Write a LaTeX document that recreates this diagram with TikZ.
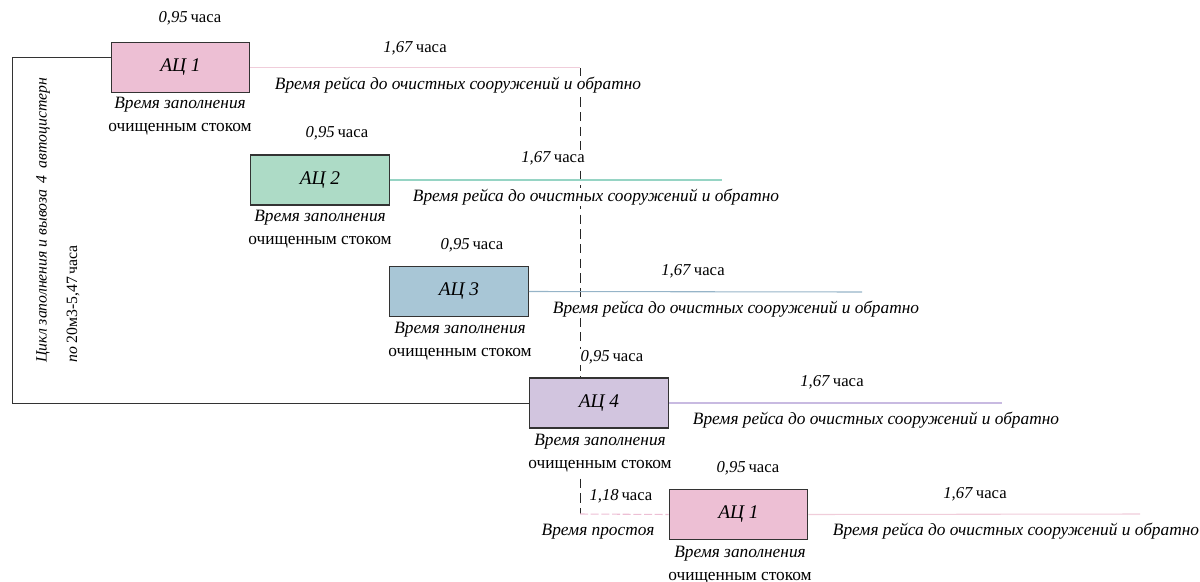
\documentclass[tikz,border=0pt]{standalone}
\usepackage{fontspec}
\setmainfont{Liberation Serif}
\usetikzlibrary{positioning}
\definecolor{acpink}{RGB}{237,191,212}
\definecolor{acgreen}{RGB}{173,219,198}
\definecolor{acblue}{RGB}{168,198,214}
\definecolor{aclilac}{RGB}{210,197,223}
\definecolor{linepink}{RGB}{240,205,218}
\definecolor{linegreen}{RGB}{150,212,196}
\definecolor{lineblue}{RGB}{150,180,200}
\definecolor{linelilac}{RGB}{200,186,225}
\tikzset{
	tankbox/.style={draw=black!80, line width=0.9pt, minimum width=104pt, minimum height=37.5pt, inner sep=0pt, font=\itshape\fontsize{14.5}{16}\selectfont}
}
\tikzset{
	hrstext/.style={font=\fontsize{12.5}{14}\selectfont, fill=white, inner sep=1pt}
}
\tikzset{
	routetext/.style={font=\itshape\fontsize{13}{15}\selectfont, fill=white, inner sep=1pt},
	filltext/.style={align=center, font=\fontsize{13}{17.2}\selectfont, fill=white, inner sep=1pt}
}
\newcommand{\hrs}[1]{\textit{#1}\,часа}
\newcommand{\filling}{\textit{Время заполнения}\\очищенным стоком}

\begin{document}
\begin{tikzpicture}[x=0.75pt, y=-0.75pt]
      \useasboundingbox (0,0) rectangle (1200,582);
      % idle time marker
      \coordinate (idletop) at (580,68);
      \coordinate (idlebot) at (580,514);
      \draw[black!85, line width=0.6pt, dash pattern=on 7pt off 4pt] (idletop) -- (idlebot);
      % tank 1
      \node[tankbox, fill=acpink] (ac1) at (180.5,67.5) {АЦ 1};
      \coordinate (e1) at (580,67.5);
      \draw[linepink, thick] (ac1.east) -- (e1);
      \node[hrstext] (t1) at (190,18) {\hrs{0,95}};
      \node[hrstext] (r1) at (415,48) {\hrs{1,67}};
      \node[routetext] (w1) at (458,85) {Время рейса до очистных сооружений и обратно};
      \node[filltext] (f1) at (180,116.5) {\filling};
      % tank 2
      \node[tankbox, fill=acgreen] (ac2) at (320,180) {АЦ 2};
      \coordinate (e2) at (722,180);
      \draw[linegreen, thick] (ac2.east) -- (e2);
      \node[hrstext] (t2) at (337,133) {\hrs{0,95}};
      \node[hrstext] (r2) at (553,158) {\hrs{1,67}};
      \node[routetext] (w2) at (596,197) {Время рейса до очистных сооружений и обратно};
      \node[filltext] (f2) at (320,229) {\filling};
      % tank 3
      \node[tankbox, fill=acblue] (ac3) at (459,291.5) {АЦ 3};
      \coordinate (e3) at (862,292);
      \draw[lineblue, thick] (ac3.east) -- (e3);
      \node[hrstext] (t3) at (472,245) {\hrs{0,95}};
      \node[hrstext] (r3) at (693,271) {\hrs{1,67}};
      \node[routetext] (w3) at (736,309) {Время рейса до очистных сооружений и обратно};
      \node[filltext] (f3) at (460,341) {\filling};
      % tank 4
      \node[tankbox, fill=aclilac] (ac4) at (599,403) {АЦ 4};
      \coordinate (e4) at (1002,403);
      \draw[linelilac, thick] (ac4.east) -- (e4);
      \node[hrstext] (t4) at (612,357) {\hrs{0,95}};
      \node[hrstext] (r4) at (832,382) {\hrs{1,67}};
      \node[routetext] (w4) at (876,420) {Время рейса до очистных сооружений и обратно};
      \node[filltext] (f4) at (600,453) {\filling};
      % tank 1 again, after idle time
      \node[tankbox, fill=acpink] (ac5) at (738.5,514.5) {АЦ 1};
      \coordinate (e5) at (1140,514);
      \draw[linepink, thick] (ac5.east) -- (e5);
      \draw[acpink, thick, dash pattern=on 6pt off 2pt] (idlebot) -- (ac5.west);
      \node[hrstext] (t5) at (748,468) {\hrs{0,95}};
      \node[hrstext] (r5) at (975,494) {\hrs{1,67}};
      \node[routetext] (w5) at (1016,531) {Время рейса до очистных сооружений и обратно};
      \node[filltext] (f5) at (740,565) {\filling};
      \node[hrstext, fill=none] (idle) at (621,496) {\hrs{1,18}};
      \node[routetext] (idlenote) at (598,532) {Время простоя};
      % cycle bracket
      \coordinate (brtop) at (111,57);
      \coordinate (brcorner) at (12,403);
      \draw[black!80] (brtop) -| (brcorner) -- (ac4.west);
      \node[rotate=90, anchor=west, font=\itshape\fontsize{11.8}{14}\selectfont, inner sep=0pt] (cyc1) at (43,363) {Цикл заполнения и вывоза \,4\, автоцистерн};
      \node[rotate=90, anchor=west, font=\fontsize{11.8}{14}\selectfont, inner sep=0pt] (cyc2) at (73,363) {\textit{по} 20м3-5,47\,часа};
    \end{tikzpicture}
\end{document}
